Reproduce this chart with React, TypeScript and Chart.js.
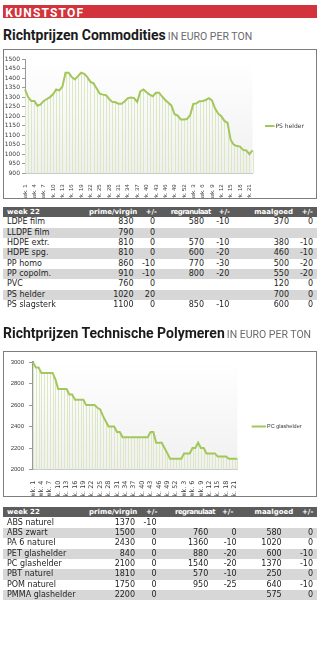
import React, { useEffect, useRef } from 'react';
import { Chart, registerables } from 'chart.js';

Chart.register(...registerables);

// ---------- DATA ----------
const weekLabels = [
  'wk. 1','wk. 2','wk. 3','wk. 4','wk. 5','wk. 6','wk. 7','wk. 8','wk. 9','wk. 10',
  'wk. 11','wk. 12','wk. 13','wk. 14','wk. 15','wk. 16','wk. 17','wk. 18','wk. 19','wk. 20',
  'wk. 21','wk. 22','wk. 23','wk. 24','wk. 25','wk. 26','wk. 27','wk. 28','wk. 29','wk. 30',
  'wk. 31','wk. 32','wk. 33','wk. 34','wk. 35','wk. 36','wk. 37','wk. 38','wk. 39','wk. 40',
  'wk. 41','wk. 42','wk. 43','wk. 44','wk. 45','wk. 46','wk. 47','wk. 48','wk. 49','wk. 50',
  'wk. 51','wk. 52','wk. 1','wk. 2','wk. 3','wk. 4','wk. 5','wk. 6','wk. 7','wk. 8',
  'wk. 9','wk. 10','wk. 11','wk. 12','wk. 13','wk. 14','wk. 15','wk. 16','wk. 17','wk. 18',
  'wk. 19','wk. 20','wk. 21','wk. 22',
];

const psHelder = [
  1340, 1300, 1280, 1280, 1255, 1262, 1280, 1290, 1300, 1315,
  1340, 1335, 1355, 1428, 1428, 1405, 1393, 1410, 1428, 1422,
  1405, 1380, 1372, 1345, 1318, 1313, 1310, 1290, 1275, 1273,
  1265, 1265, 1278, 1295, 1298, 1295, 1275, 1330, 1340, 1325,
  1313, 1305, 1323, 1323, 1303, 1285, 1270, 1255, 1210, 1203,
  1183, 1183, 1185, 1206, 1264, 1267, 1278, 1280, 1285, 1294,
  1283, 1240, 1213, 1200, 1175, 1165, 1075, 1050, 1043, 1040,
  1023, 1020, 1000, 1020,
];

const pcGlashelder = [
  3000, 2950, 2950, 2900, 2900, 2900, 2900, 2900, 2840, 2750,
  2750, 2750, 2750, 2700, 2700, 2650, 2650, 2650, 2650, 2600,
  2600, 2600, 2600, 2575, 2560, 2500, 2450, 2400, 2400, 2400,
  2350, 2350, 2300, 2300, 2300, 2300, 2300, 2300, 2300, 2300,
  2300, 2300, 2350, 2350, 2250, 2250, 2250, 2200, 2150, 2100,
  2100, 2100, 2100, 2100, 2150, 2150, 2150, 2200, 2200, 2250,
  2200, 2200, 2150, 2150, 2150, 2150, 2120, 2120, 2120, 2120,
  2100, 2100, 2100, 2100,
];

const psAxis = { min: 900, max: 1500, step: 50 };
const pcAxis = { min: 2000, max: 3000, step: 200 };

const tableHeaders = ['prime/virgin', '+/-', 'regranulaat', '+/-', 'maalgoed', '+/-'];
const weekTitle = 'week 22';

const names1 = ['LDPE film', 'LLDPE film', 'HDPE extr.', 'HDPE spg.', 'PP homo', 'PP copolm.', 'PVC', 'PS helder', 'PS slagsterk'];
const prime1 = [830, 790, 810, 810, 860, 910, 760, 1020, 1100];
const primeDelta1 = [0, 0, 0, 0, -10, -10, 0, 20, 0];
const regr1 = [580, null, 570, 600, 770, 800, null, null, 850];
const regrDelta1 = [-10, null, -10, -20, -30, -20, null, null, -10];
const maal1 = [370, null, 380, 460, 500, 550, 120, 700, 600];
const maalDelta1 = [0, null, -10, -10, -20, -20, 0, 0, 0];

const names2 = ['ABS naturel', 'ABS zwart', 'PA 6 naturel', 'PET glashelder', 'PC glashelder', 'PBT naturel', 'POM naturel', 'PMMA glashelder'];
const prime2 = [1370, 1500, 2430, 840, 2100, 1810, 1750, 2200];
const primeDelta2 = [-10, 0, 0, 0, 0, 0, 0, 0];
const regr2 = [null, 760, 1360, 880, 1540, 570, 950, null];
const regrDelta2 = [null, 0, -10, -20, -20, -10, -25, null];
const maal2 = [null, 580, 1020, 600, 1370, 250, 640, 575];
const maalDelta2 = [null, 0, 0, -10, -10, 0, -10, 0];

// ---------- STYLE ----------
const LINE = '#a3c75b';
const DROP = '#dbe8c3';
const AXIS = '#9a9a9a';
const TXT = '#3a3a3a';

const plotBg = {
  id: 'plotBg',
  beforeDraw(chart: any) {
    const { ctx, chartArea: a } = chart;
    const g = ctx.createLinearGradient(0, a.top, 0, a.bottom);
    g.addColorStop(0, '#ffffff');
    g.addColorStop(1, '#f0f0f0');
    ctx.save();
    ctx.fillStyle = g;
    ctx.fillRect(a.left, a.top, a.right - a.left, a.bottom - a.top);
    ctx.restore();
  },
};

const dropLines = {
  id: 'dropLines',
  beforeDatasetsDraw(chart: any) {
    const { ctx, chartArea: a } = chart;
    const meta = chart.getDatasetMeta(0);
    ctx.save();
    ctx.strokeStyle = DROP;
    ctx.lineWidth = 1;
    meta.data.forEach((pt: any) => {
      const x = Math.round(pt.x) + 0.5;
      ctx.beginPath();
      ctx.moveTo(x, pt.y);
      ctx.lineTo(x, a.bottom);
      ctx.stroke();
    });
    ctx.restore();
  },
};

const sideLegend = {
  id: 'sideLegend',
  afterDraw(chart: any, _args: any, o: any) {
    const { ctx } = chart;
    const ds = chart.data.datasets[0];
    ctx.save();
    ctx.strokeStyle = ds.borderColor;
    ctx.lineWidth = 2;
    ctx.beginPath();
    ctx.moveTo(o.x1, o.y);
    ctx.lineTo(o.x2, o.y);
    ctx.stroke();
    ctx.fillStyle = TXT;
    ctx.font = o.font;
    ctx.textAlign = 'left';
    ctx.textBaseline = 'middle';
    ctx.fillText(ds.label, o.x2 + 1, o.y);
    ctx.restore();
  },
};

function buildConfig(p: any) {
  return {
    type: 'line',
    data: {
      labels: weekLabels,
      datasets: [
        {
          label: p.label,
          data: p.data,
          borderColor: LINE,
          borderWidth: 2,
          pointRadius: 0,
          tension: 0,
          fill: false,
        },
      ],
    },
    plugins: [plotBg, dropLines, sideLegend],
    options: {
      animation: false,
      responsive: false,
      maintainAspectRatio: false,
      events: [],
      layout: { padding: { left: 0, top: p.top, right: p.width - p.right, bottom: 0 } },
      plugins: {
        legend: { display: false },
        tooltip: { enabled: false },
        sideLegend: p.legend,
      },
      scales: {
        x: {
          type: 'category',
          offset: false,
          grid: { display: false },
          border: { display: true, color: '#c8c8c8', width: 1 },
          ticks: {
            autoSkip: false,
            minRotation: 90,
            maxRotation: 90,
            padding: 3,
            color: TXT,
            font: p.xFont,
            callback: (_v: any, i: number) => (i % 3 === 0 ? weekLabels[i] : ''),
          },
          afterFit: (s: any) => {
            s.height = p.height - p.bottom;
          },
        },
        y: {
          min: p.axis.min,
          max: p.axis.max,
          ticks: {
            stepSize: p.axis.step,
            autoSkip: false,
            padding: p.yPad,
            color: TXT,
            font: p.yFont,
            callback: (v: any) => String(v),
          },
          grid: { display: true, drawOnChartArea: false, drawTicks: true, tickLength: p.tickLen, color: AXIS },
          border: { display: true, color: AXIS, width: p.axisWidth },
          afterFit: (s: any) => {
            s.width = p.left;
          },
        },
      },
    },
  };
}

function LineBox(props: { cfg: any; x: number; y: number; w: number; h: number }) {
  const ref = useRef<HTMLCanvasElement | null>(null);
  useEffect(() => {
    if (!ref.current) return;
    const chart = new Chart(ref.current, props.cfg);
    return () => chart.destroy();
  }, []);
  return (
    <>
      <canvas
        ref={ref}
        width={props.w}
        height={props.h}
        style={{ position: 'absolute', left: props.x, top: props.y, width: props.w, height: props.h }}
      />
      <div
        style={{
          position: 'absolute',
          left: props.x,
          top: props.y,
          width: props.w,
          height: props.h,
          boxSizing: 'border-box',
          border: '1px solid #7d7d7d',
          pointerEvents: 'none',
        }}
      />
    </>
  );
}

function Title(props: { top: number; text: string }) {
  return (
    <div
      style={{
        position: 'absolute',
        left: 3,
        top: props.top,
        whiteSpace: 'nowrap',
        fontFamily: 'Roboto, sans-serif',
        fontSize: 14,
        lineHeight: '14px',
      }}
    >
      <span style={{ fontWeight: 700, color: '#1b1b1b' }}>{props.text}</span>
      <span style={{ fontSize: 10.5, color: '#6b6b6b', marginLeft: 2 }}>IN EURO PER TON</span>
    </div>
  );
}

function PriceTable(props: {
  top: number;
  headH: number;
  rowTop: number;
  rowH: number;
  headRights: number[];
  valRights: number[];
  names: string[];
  cols: (number | null)[][];
}) {
  const cell = (right: number, extra: any = {}) => ({
    position: 'absolute' as const,
    right: 317 - right,
    top: 0,
    whiteSpace: 'nowrap' as const,
    ...extra,
  });
  return (
    <>
      <div
        style={{
          position: 'absolute',
          left: 3,
          top: props.top,
          width: 314,
          height: props.headH,
          lineHeight: props.headH + 'px',
          background: '#5c5c5c',
          color: '#ffffff',
          fontFamily: '"DejaVu Sans", sans-serif',
          fontWeight: 700,
          fontSize: 7,
        }}
      >
        <span style={{ position: 'absolute', left: 4, top: 0 }}>{weekTitle}</span>
        {tableHeaders.map((h, i) => (
          <span key={i} style={cell(props.headRights[i], h === 'regranulaat' ? { letterSpacing: -0.6 } : {}) as any}>
            {h}
          </span>
        ))}
      </div>
      {props.names.map((n, r) => (
        <div
          key={r}
          style={{
            position: 'absolute',
            left: 3,
            top: props.rowTop + r * props.rowH,
            width: 314,
            height: props.rowH,
            lineHeight: props.rowH + 'px',
            background: r % 2 === 1 ? '#d7d7d7' : '#ffffff',
            color: '#1e1e1e',
            fontFamily: '"DejaVu Sans", sans-serif',
            fontSize: 8,
          }}
        >
          <span style={{ position: 'absolute', left: 4, top: 0, whiteSpace: 'nowrap' }}>{n}</span>
          {props.cols.map((col, c) =>
            col[r] === null ? null : (
              <span key={c} style={cell(props.valRights[c]) as any}>
                {String(col[r])}
              </span>
            )
          )}
        </div>
      ))}
    </>
  );
}

const cfg1 = buildConfig({
  label: 'PS helder',
  data: psHelder,
  axis: psAxis,
  width: 314,
  height: 150,
  left: 22,
  top: 10,
  right: 249.5,
  bottom: 124.3,
  tickLen: 3,
  yPad: 2,
  axisWidth: 1,
  xFont: { family: '"Liberation Sans", Arial, sans-serif', size: 6 },
  yFont: { family: '"DejaVu Sans", sans-serif', size: 6 },
  legend: { x1: 262, x2: 271.5, y: 77, font: '6px "DejaVu Sans", sans-serif' },
});

const cfg2 = buildConfig({
  label: 'PC glashelder',
  data: pcGlashelder,
  axis: pcAxis,
  width: 314,
  height: 146,
  left: 30,
  top: 11.2,
  right: 234.3,
  bottom: 118.5,
  tickLen: 4,
  yPad: 5,
  axisWidth: 2,
  xFont: { family: '"DejaVu Sans", sans-serif', size: 6.5 },
  yFont: { family: '"Liberation Sans", Arial, sans-serif', size: 6 },
  legend: { x1: 248.7, x2: 263, y: 75.5, font: '5.5px "Liberation Sans", Arial, sans-serif' },
});

export default function App() {
  return (
    <div
      style={{
        position: 'absolute',
        left: 0,
        top: 0,
        width: 321,
        height: 669,
        background: '#ffffff',
        overflow: 'hidden',
      }}
    >
      <div style={{ position: 'absolute', left: 3, top: 4.7, width: 314, height: 13.6, background: '#d2333c' }}>
        <span
          style={{
            position: 'absolute',
            left: 2.3,
            top: 2.5,
            lineHeight: '12px',
            fontFamily: 'Roboto, sans-serif',
            fontWeight: 700,
            fontSize: 12,
            letterSpacing: 1.2,
            color: '#ffffff',
          }}
        >
          KUNSTSTOF
        </span>
      </div>

      <Title top={27.5} text="Richtprijzen Commodities" />
      <LineBox cfg={cfg1} x={3} y={49} w={314} h={150} />

      <PriceTable
        top={206.7}
        headH={10.3}
        rowTop={217.3}
        rowH={10.35}
        headRights={[137.3, 157, 210.7, 230, 293, 313]}
        valRights={[133.5, 155, 204, 229.3, 289, 313]}
        names={names1}
        cols={[prime1, primeDelta1, regr1, regrDelta1, maal1, maalDelta1]}
      />

      <Title top={325.5} text="Richtprijzen Technische Polymeren" />
      <LineBox cfg={cfg2} x={3} y={350.5} w={314} h={146} />

      <PriceTable
        top={506.7}
        headH={10.3}
        rowTop={517.8}
        rowH={10.3}
        headRights={[137.3, 157.3, 215, 233.3, 293.3, 313.3]}
        valRights={[135, 156.5, 208.3, 236.7, 281.7, 313]}
        names={names2}
        cols={[prime2, primeDelta2, regr2, regrDelta2, maal2, maalDelta2]}
      />
    </div>
  );
}
